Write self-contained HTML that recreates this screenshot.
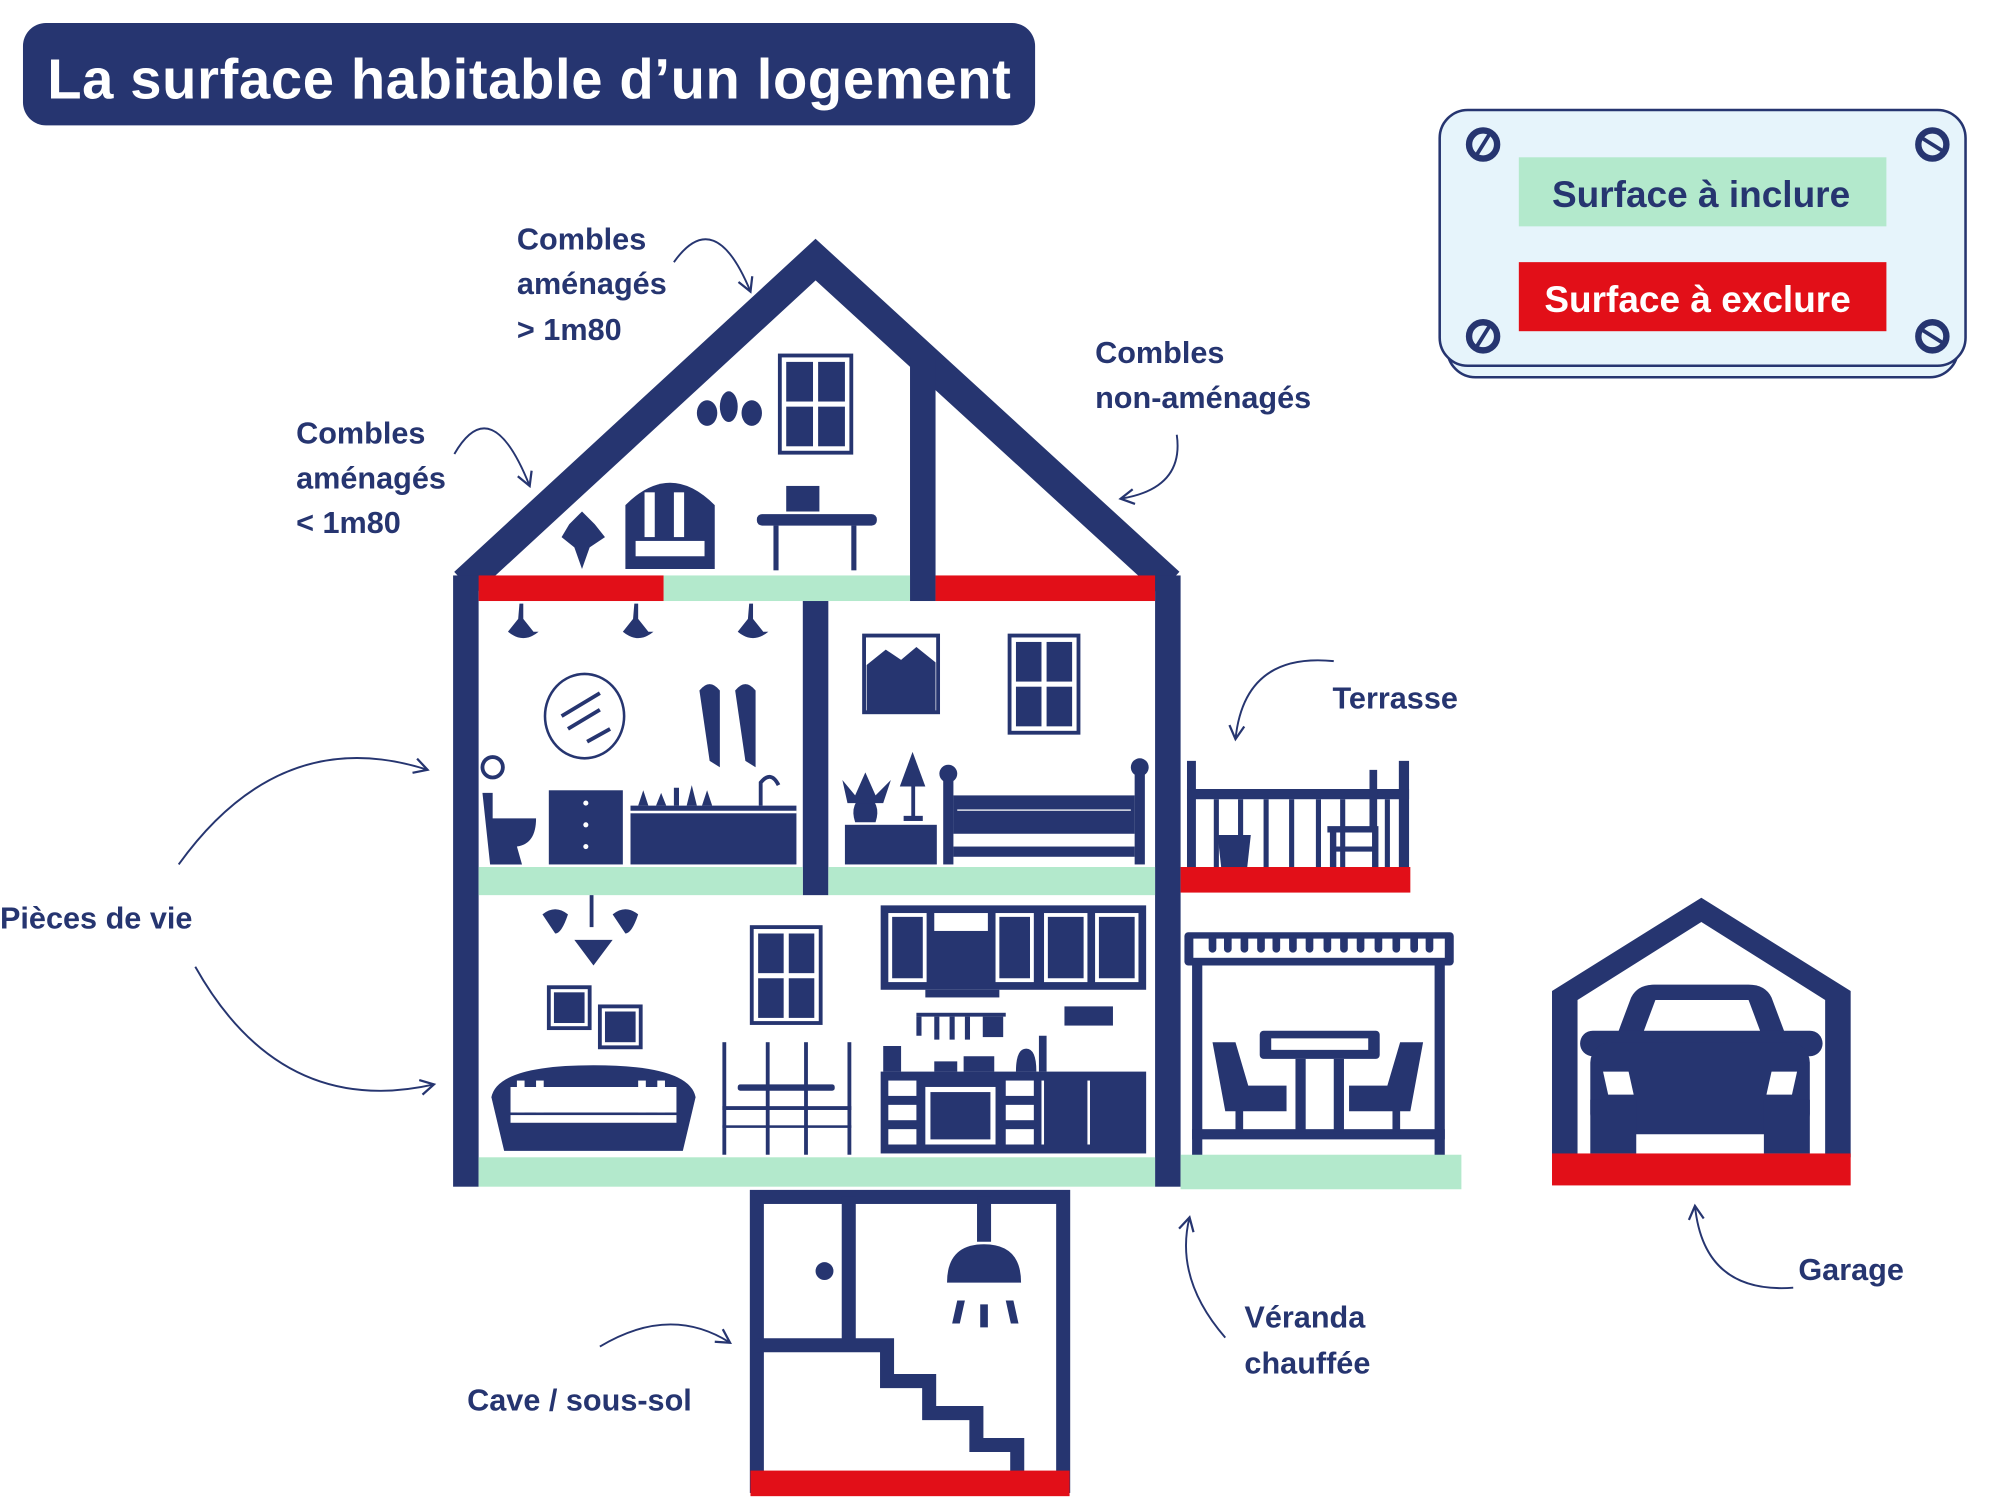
<!DOCTYPE html>
<html><head><meta charset="utf-8"><style>
html,body{margin:0;padding:0;background:#fff;}
svg{display:block;}
text{font-family:"Liberation Sans",sans-serif;font-weight:bold;}
</style></head><body>
<svg width="2000" height="1500" viewBox="0 0 1567 1173" preserveAspectRatio="none" xmlns="http://www.w3.org/2000/svg">
<defs>
<marker id="ah" viewBox="0 0 12 12" refX="10" refY="6" markerWidth="14" markerHeight="14" orient="auto" markerUnits="userSpaceOnUse"><path d="M1 1 L10 6 L1 11" fill="none" stroke="#263570" stroke-width="1.5"/></marker>
</defs>
<g fill="#263570">
<rect x="18" y="18" width="793" height="80" rx="18"/>
<text x="37" y="77" font-size="44" fill="#fff" textLength="755">La surface habitable d’un logement</text>
</g>

<rect x="1134" y="95" width="400" height="200" rx="22" fill="#e6f4fb" stroke="#263570" stroke-width="2"/>
<rect x="1128" y="86" width="412" height="200" rx="22" fill="#e6f4fb" stroke="#263570" stroke-width="2"/>
<rect x="1190" y="123" width="288" height="54" fill="#b3e9cc"/>
<text x="1216" y="162" font-size="29" fill="#263570">Surface à inclure</text>
<rect x="1190" y="205" width="288" height="54" fill="#e20f18"/>
<text x="1210" y="244" font-size="29" fill="#fff">Surface à exclure</text>
<g fill="none" stroke="#263570">
<circle cx="1162" cy="113" r="11" stroke-width="5"/><line x1="1157" y1="121" x2="1167" y2="105" stroke-width="3"/>
<circle cx="1514" cy="113" r="11" stroke-width="5"/><line x1="1506" y1="108" x2="1522" y2="118" stroke-width="3"/>
<circle cx="1162" cy="263" r="11" stroke-width="5"/><line x1="1157" y1="271" x2="1167" y2="255" stroke-width="3"/>
<circle cx="1514" cy="263" r="11" stroke-width="5"/><line x1="1506" y1="258" x2="1522" y2="268" stroke-width="3"/>
</g>

<polyline points="364,456 639,203 916,456" fill="none" stroke="#263570" stroke-width="24" stroke-linejoin="miter"/>
<rect x="355" y="450" width="20" height="478" fill="#263570"/>
<rect x="905" y="450" width="20" height="478" fill="#263570"/>
<rect x="713" y="280" width="20" height="190" fill="#263570"/>
<rect x="375" y="450" width="145" height="20" fill="#e20f18"/>
<rect x="520" y="450" width="193" height="20" fill="#b3e9cc"/>
<rect x="733" y="450" width="172" height="20" fill="#e20f18"/>
<rect x="629" y="470" width="20" height="230" fill="#263570"/>
<rect x="375" y="678" width="254" height="22" fill="#b3e9cc"/>
<rect x="649" y="678" width="256" height="22" fill="#b3e9cc"/>
<rect x="375" y="905" width="530" height="23" fill="#b3e9cc"/>

<g fill="#263570">
<rect x="611" y="278" width="56" height="76" fill="#fff" stroke="#263570" stroke-width="3"/>
<rect x="616" y="283" width="21" height="31"/><rect x="641" y="283" width="21" height="31"/>
<rect x="616" y="318" width="21" height="31"/><rect x="641" y="318" width="21" height="31"/>
<ellipse cx="554" cy="323" rx="8" ry="10"/><ellipse cx="571" cy="318" rx="7" ry="12"/><ellipse cx="589" cy="323" rx="8" ry="10"/>
<path d="M490 445 L490 395 Q525 360 560 395 L560 445 Z"/>
<rect x="505" y="385" width="8" height="35" fill="#fff"/><rect x="528" y="385" width="8" height="35" fill="#fff"/>
<rect x="498" y="423" width="54" height="12" fill="#fff"/>
<rect x="593" y="402" width="94" height="9" rx="4"/>
<rect x="606" y="411" width="4" height="35"/><rect x="667" y="411" width="4" height="35"/>
<rect x="616" y="380" width="26" height="20"/>
<path d="M456 445 L450 428 L440 420 L446 410 L456 400 L466 410 L474 420 L462 428 Z"/>
<path d="M407 472 h3 v12 l8 10 h-20 l8 -10 z M398 494 q12 10 24 0z"/>
<path d="M497 472 h3 v12 l8 10 h-20 l8 -10 z M488 494 q12 10 24 0z"/>
<path d="M587 472 h3 v12 l8 10 h-20 l8 -10 z M578 494 q12 10 24 0z"/>
<ellipse cx="458" cy="560" rx="31" ry="33" fill="#fff" stroke="#263570" stroke-width="2"/>
<path d="M440 560 l30 -18 M445 570 l25 -15 M460 580 l18 -10" stroke="#263570" stroke-width="3"/>
<path d="M548 540 q8 -10 16 0 v60 l-8 -5 z M576 540 q8 -10 16 0 v60 l-8 -5 z"/>
<rect x="430" y="618" width="58" height="58"/>
<circle cx="459" cy="628" r="2" fill="#fff"/><circle cx="459" cy="645" r="2" fill="#fff"/><circle cx="459" cy="662" r="2" fill="#fff"/>
<rect x="494" y="630" width="130" height="46"/><rect x="494" y="634" width="130" height="2" fill="#fff"/>
<path d="M500 630 l4 -12 l4 12z M514 630 l4 -10 l4 10z M528 630 v-14 h4 v14z M538 630 l4 -16 l4 16z M550 630 l4 -12 l4 12z"/>
<path d="M378 620 h8 v20 h34 q0 20 -15 22 l4 14 h-25z"/>
<circle cx="386" cy="600" r="8" fill="#fff" stroke="#263570" stroke-width="3"/>
<path d="M596 630 v-18 q8 -10 14 2" fill="none" stroke="#263570" stroke-width="3"/>
<rect x="677" y="497" width="58" height="60" fill="#fff" stroke="#263570" stroke-width="3"/>
<path d="M679 520 l15 -12 l12 8 l12 -10 l15 12 v38 h-54z"/>
<rect x="791" y="497" width="54" height="76" fill="#fff" stroke="#263570" stroke-width="3"/>
<rect x="796" y="502" width="20" height="31"/><rect x="820" y="502" width="20" height="31"/>
<rect x="796" y="537" width="20" height="31"/><rect x="820" y="537" width="20" height="31"/>
<rect x="662" y="645" width="72" height="31"/>
<path d="M670 643 q-5 -15 8 -22 q13 7 8 22z"/><path d="M660 610 l10 12 l8 -18 l8 18 l12 -12 l-6 18 h-28z"/>
<path d="M705 615 l10 -27 l10 27z"/><rect x="714" y="615" width="3" height="25"/><rect x="708" y="638" width="15" height="4"/>
<rect x="739" y="610" width="8" height="66"/><circle cx="743" cy="605" r="7"/>
<rect x="889" y="605" width="8" height="71"/><circle cx="893" cy="600" r="7"/>
<rect x="747" y="622" width="142" height="30"/><rect x="747" y="662" width="142" height="8"/>
<rect x="750" y="633" width="136" height="1" fill="#fff"/>
<rect x="462" y="700" width="3" height="25"/>
<path d="M425 715 q10 -8 20 0 q-5 15 -10 15 z M480 715 q10 -8 20 0 q-5 15 -10 15 z M450 735 h30 l-15 20z"/>
<rect x="430" y="772" width="32" height="32" fill="#fff" stroke="#263570" stroke-width="3"/><rect x="434" y="776" width="24" height="24"/>
<rect x="470" y="787" width="32" height="32" fill="#fff" stroke="#263570" stroke-width="3"/><rect x="474" y="791" width="24" height="24"/>
<rect x="589" y="725" width="54" height="75" fill="#fff" stroke="#263570" stroke-width="3"/>
<rect x="594" y="730" width="20" height="31"/><rect x="618" y="730" width="20" height="31"/>
<rect x="594" y="765" width="20" height="31"/><rect x="618" y="765" width="20" height="31"/>
<path d="M385 858 q5 -25 80 -25 q75 0 80 25 l-10 42 h-140z"/>
<path d="M400 850 h130 v20 h-130z" fill="#fff"/>
<rect x="405" y="845" width="6" height="25" fill="#fff"/><rect x="420" y="845" width="6" height="25" fill="#fff"/><rect x="500" y="845" width="6" height="25" fill="#fff"/><rect x="515" y="845" width="6" height="25" fill="#fff"/>
<rect x="400" y="872" width="130" height="6" fill="#fff"/>
<rect x="578" y="848" width="76" height="5" rx="2"/>
<rect x="566" y="815" width="3" height="88"/><rect x="664" y="815" width="3" height="88"/>
<rect x="600" y="815" width="3" height="88"/><rect x="630" y="815" width="3" height="88"/>
<rect x="566" y="865" width="101" height="3"/><rect x="566" y="880" width="101" height="2"/>
<rect x="690" y="708" width="208" height="66"/>
<rect x="696" y="714" width="30" height="54" fill="#fff"/><rect x="699" y="717" width="24" height="48"/>
<rect x="780" y="714" width="30" height="54" fill="#fff"/><rect x="783" y="717" width="24" height="48"/>
<rect x="818" y="714" width="34" height="54" fill="#fff"/><rect x="821" y="717" width="28" height="48"/>
<rect x="858" y="714" width="34" height="54" fill="#fff"/><rect x="861" y="717" width="28" height="48"/>
<rect x="732" y="714" width="42" height="14" fill="#fff"/>
<rect x="725" y="774" width="58" height="6"/>
<rect x="718" y="792" width="70" height="3"/>
<path d="M720 795 v15 M734 795 v18 M746 795 v18 M758 795 v18" stroke="#263570" stroke-width="4"/>
<rect x="770" y="795" width="16" height="16"/>
<rect x="834" y="787" width="38" height="15"/>
<rect x="690" y="838" width="208" height="64"/>
<rect x="696" y="845" width="22" height="12" fill="#fff"/><rect x="696" y="864" width="22" height="12" fill="#fff"/><rect x="696" y="883" width="22" height="12" fill="#fff"/>
<rect x="788" y="845" width="22" height="12" fill="#fff"/><rect x="788" y="864" width="22" height="12" fill="#fff"/><rect x="788" y="883" width="22" height="12" fill="#fff"/>
<rect x="725" y="850" width="55" height="45" fill="#fff"/><rect x="729" y="854" width="47" height="37"/>
<rect x="816" y="845" width="2" height="50" fill="#fff"/><rect x="852" y="845" width="2" height="50" fill="#fff"/>
<path d="M692 838 v-20 h14 v20z M732 830 h18 v8 h-18z M755 826 h24 v12 h-24z M796 838 q0 -18 8 -18 q8 0 8 18z M814 838 v-28 h6 v28z"/>
</g>

<g fill="none" stroke="#263570" stroke-width="11">
<rect x="593" y="936" width="240" height="226"/>
<path d="M665 936 V1052 H593 M595 1052 H695 V1080 H728 V1105 H765 V1130 H797 V1155"/>
<path d="M771 936 v35"/>
</g>
<g fill="#263570">
<circle cx="646" cy="994" r="7"/>
<path d="M742 1003 q0 -30 29 -30 q29 0 29 30z"/>
<path d="M750 1017 l-4 18 h6 l4 -18z M768 1020 v18 h6 v-18z M788 1017 l4 18 h6 l-4 -18z"/>
</g>
<rect x="588" y="1150" width="250" height="20" fill="#e20f18"/>

<g fill="#263570">
<rect x="930" y="595" width="7" height="85"/><rect x="1096" y="595" width="8" height="85"/>
<rect x="930" y="617" width="174" height="8"/>
<rect x="951" y="625" width="4" height="55"/><rect x="970" y="625" width="4" height="55"/><rect x="990" y="625" width="4" height="55"/>
<rect x="1010" y="625" width="4" height="55"/><rect x="1031" y="625" width="4" height="55"/><rect x="1050" y="625" width="4" height="55"/><rect x="1085" y="625" width="4" height="55"/>
<path d="M954 653 h26 l-3 27 h-20z"/>
<path d="M1040 646 h40 v5 h-40z M1042 650 h5 v30 h-5z M1075 650 h5 v30 h-5z M1042 662 h38 v4 h-38z M1073 602 h6 v48 h-6z"/>
</g>
<rect x="925" y="678" width="180" height="20" fill="#e20f18"/>

<g fill="#263570">
<rect x="928" y="729" width="211" height="26" rx="3"/>
<rect x="935" y="734" width="197" height="15" fill="#fff"/>
<path d="M950 734 v8 M962 734 v8 M975 734 v8 M988 734 v8 M1000 734 v8 M1013 734 v8 M1026 734 v8 M1040 734 v8 M1053 734 v8 M1066 734 v8 M1080 734 v8 M1094 734 v8 M1108 734 v8 M1120 734 v8" stroke="#263570" stroke-width="6" stroke-linecap="round"/>
<rect x="934" y="755" width="8" height="150"/><rect x="1124" y="755" width="8" height="150"/>
<rect x="934" y="883" width="198" height="8"/>
<rect x="987" y="806" width="94" height="22" rx="3"/><rect x="996" y="812" width="76" height="9" fill="#fff"/>
<rect x="1015" y="828" width="8" height="57"/><rect x="1045" y="828" width="8" height="57"/>
<path d="M950 815 h18 l10 34 h30 v20 h-34 v16 h-6 v-16 h-8 z"/>
<path d="M1115 815 h-18 l-10 34 h-30 v20 h34 v16 h6 v-16 h8 z"/>
</g>
<rect x="925" y="903" width="220" height="27" fill="#b3e9cc"/>

<path d="M1216 775 L1333 702 L1450 775 V905 H1430 V782 L1333 721 L1236 782 V905 H1216 Z" fill="#263570"/>
<g fill="#263570">
<path d="M1266 812 L1278 780 Q1283 770 1296 770 H1370 Q1383 770 1388 780 L1400 812 Z"/>
<rect x="1238" y="806" width="190" height="20" rx="10"/>
<rect x="1246" y="815" width="172" height="72" rx="16"/>
<rect x="1246" y="860" width="36" height="42"/><rect x="1382" y="860" width="36" height="42"/>
<path d="M1288 806 L1297 782 H1370 L1379 806Z" fill="#fff"/>
<path d="M1256 838 h20 l4 18 h-20z" fill="#fff"/><path d="M1408 838 h-20 l-4 18 h20z" fill="#fff"/>
</g>
<rect x="1216" y="902" width="234" height="25" fill="#e20f18"/>

<g fill="#263570" font-size="24">
<text x="405" y="195">Combles</text><text x="405" y="230">aménagés</text><text x="405" y="266">&gt; 1m80</text>
<text x="232" y="347">Combles</text><text x="232" y="382">aménagés</text><text x="232" y="417">&lt; 1m80</text>
<text x="858" y="284">Combles</text><text x="858" y="319">non-aménagés</text>
<text x="1044" y="554">Terrasse</text>
<text x="0" y="726">Pièces de vie</text>
<text x="975" y="1038">Véranda</text><text x="975" y="1074">chauffée</text>
<text x="1409" y="1001">Garage</text>
<text x="366" y="1103">Cave / sous-sol</text>
</g>

<g fill="none" stroke="#263570" stroke-width="1.5" marker-end="url(#ah)">
<path d="M528 205 Q560 160 588 228"/>
<path d="M356 355 Q385 305 415 380"/>
<path d="M922 340 Q928 382 878 390"/>
<path d="M1045 517 Q975 510 968 578"/>
<path d="M140 676 Q220 565 335 602"/>
<path d="M153 756 Q220 875 340 848"/>
<path d="M960 1046 Q920 1000 932 952"/>
<path d="M1405 1007 Q1335 1012 1328 943"/>
<path d="M470 1053 Q525 1020 572 1050"/>
</g>
</svg>
</body></html>
